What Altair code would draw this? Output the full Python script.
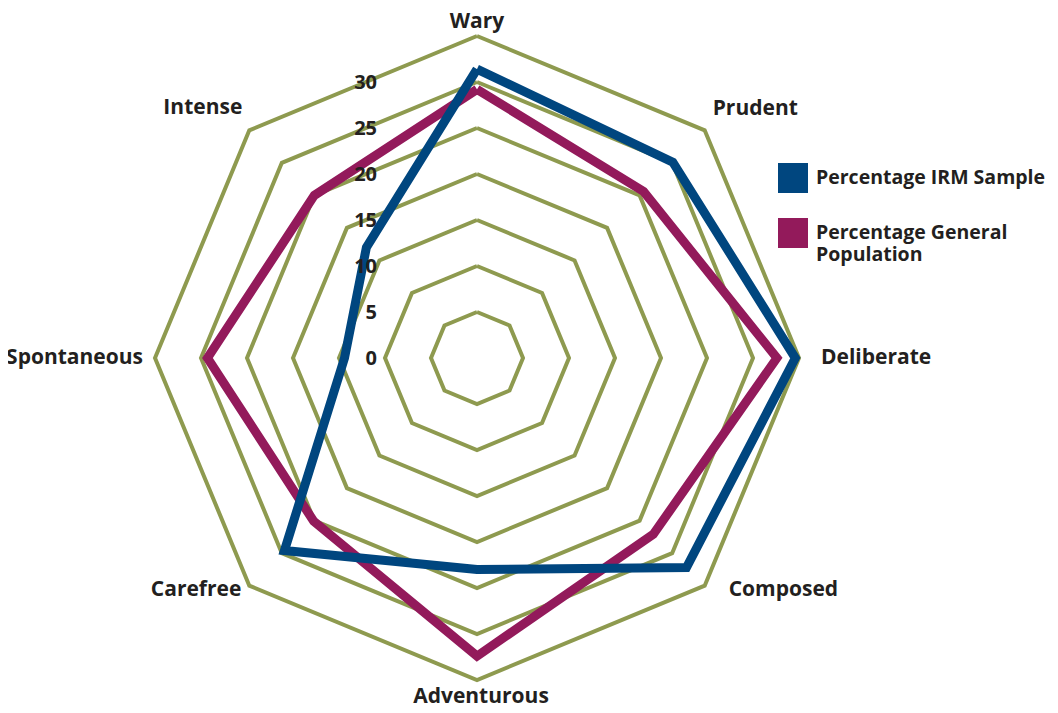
import altair as alt
import pandas as pd

# ---------------- data ----------------
categories = ["Wary", "Prudent", "Deliberate", "Composed",
              "Adventurous", "Carefree", "Spontaneous", "Intense"]
irm_sample = [31.4, 30.1, 34.6, 32.2, 23.0, 29.6, 14.4, 17.0]
general_population = [29.2, 25.6, 32.6, 27.1, 32.4, 25.1, 29.3, 25.0]
series_names = ["Percentage IRM Sample", "Percentage General Population"]
ring_values = [5, 10, 15, 20, 25, 30, 35]
tick_labels = [0, 5, 10, 15, 20, 25, 30]

# ---------------- layout / style ----------------
W, H = 1042, 696
CX, CY = 469, 350          # centre of the radar in plot pixels
K = 9.2                    # pixels per unit
FONT = "Open Sans"
TXT = "#231f20"
BLUE = "#00467f"
PINK = "#931a5b"
GRID = "#8e9a4f"
N = len(categories)

xscale = alt.Scale(domain=[-CX / K, (W - CX) / K], nice=False, zero=False)
yscale = alt.Scale(domain=[-(H - CY) / K, CY / K], nice=False, zero=False)

# series table (closed polygons)
rows = []
for name, vals in zip(series_names, [irm_sample, general_population]):
    for i in range(N + 1):
        rows.append({"series": name, "idx": i, "category": categories[i % N],
                     "value": vals[i % N]})
series_df = pd.DataFrame(rows)

grid_rows = []
for r in ring_values:
    for i in range(N + 1):
        grid_rows.append({"ring": r, "idx": i, "value": r})
grid_df = pd.DataFrame(grid_rows)

label_df = pd.DataFrame({"category": categories, "idx": list(range(N)),
                         "value": [ring_values[-1]] * N})
tick_df = pd.DataFrame({"tick": tick_labels})


def polarize(ch):
    return ch.transform_calculate(
        px=f"datum.value * sin(datum.idx * 2 * PI / {N})",
        py=f"datum.value * cos(datum.idx * 2 * PI / {N})",
    )


X = alt.X("px:Q", scale=xscale, axis=None)
Y = alt.Y("py:Q", scale=yscale, axis=None)

color_scale = alt.Scale(domain=series_names, range=[BLUE, PINK])

grid = polarize(alt.Chart(grid_df).mark_line(
    color=GRID, strokeWidth=4, strokeJoin="miter", strokeMiterLimit=10
)).encode(x=X, y=Y, detail="ring:N", order="idx:Q")


def series_layer(name, col):
    return polarize(alt.Chart(series_df).transform_filter(
        alt.datum.series == name
    ).mark_line(strokeWidth=9, strokeJoin="miter", strokeMiterLimit=10,
                color=col)).encode(x=X, y=Y, order="idx:Q")


legend_layer = polarize(alt.Chart(series_df).mark_square(opacity=0, size=1)).encode(
    x=X, y=Y,
    fill=alt.Fill(
        "series:N", scale=color_scale,
        legend=alt.Legend(
            title=None, orient="none", legendX=770, legendY=155, padding=0,
            symbolType="square", symbolSize=900, symbolOpacity=1,
            symbolStrokeWidth=0, labelFont=FONT, labelFontSize=19.5,
            labelFontWeight="bold", labelColor=TXT, labelLimit=400,
            labelOffset=8, rowPadding=25,
            labelExpr="datum.label == 'Percentage General Population' ? ['Percentage General', 'Population'] : datum.label",
        ),
    ),
)

label_style = {
    "Wary": ("center", "alphabetic", 0, -8),
    "Prudent": ("left", "bottom", 8, -11),
    "Deliberate": ("left", "middle", 22, 0),
    "Composed": ("left", "middle", 24, 4),
    "Adventurous": ("center", "alphabetic", 4, 23),
    "Carefree": ("right", "middle", -8, 4),
    "Spontaneous": ("right", "middle", -12, 0),
    "Intense": ("right", "middle", -7, -22),
}
label_layers = []
for cat in categories:
    a, b, dx, dy = label_style[cat]
    label_layers.append(
        polarize(alt.Chart(label_df).transform_filter(alt.datum.category == cat)
                 .mark_text(align=a, baseline=b, dx=dx, dy=dy, font=FONT,
                            fontSize=21, fontWeight="bold", color=TXT))
        .encode(x=X, y=Y, text="category:N")
    )

ticks = alt.Chart(tick_df).mark_text(
    align="right", baseline="middle", dy=1, font=FONT, fontSize=20,
    fontWeight="bold", color=TXT
).encode(
    x=alt.value(CX - 100),
    y=alt.Y("tick:Q", scale=yscale, axis=None),
    text="tick:Q",
)

chart = alt.layer(
    grid,
    series_layer(series_names[1], PINK),
    series_layer(series_names[0], BLUE),
    ticks, *label_layers, legend_layer
).properties(
    width=W, height=H, padding=0, autosize=alt.AutoSizeParams(type="none"),
    background="white",
).configure_view(stroke=None)

chart.save("out.html", embed_options={"renderer": "svg", "actions": False})
